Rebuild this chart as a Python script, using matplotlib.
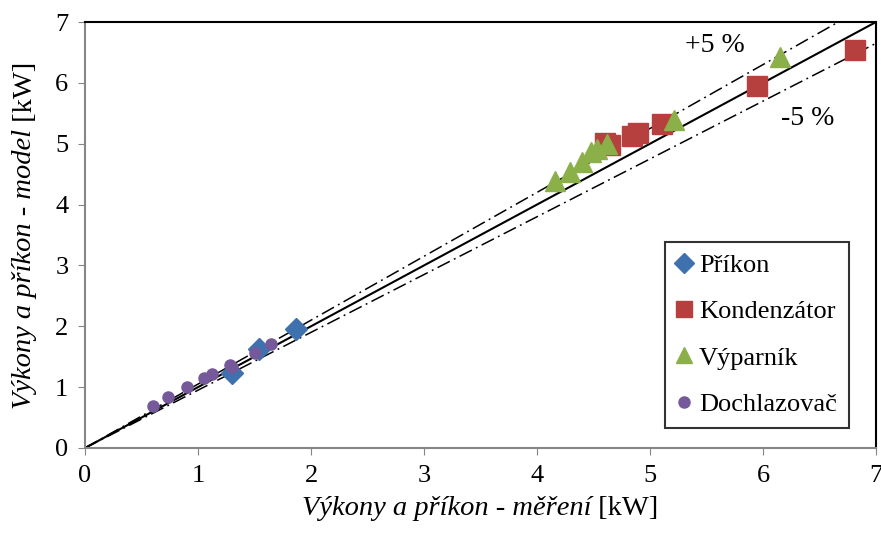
import matplotlib
matplotlib.use("Agg")
import matplotlib.pyplot as plt
import numpy as np

plt.rcParams['font.family'] = ['Liberation Serif', 'DejaVu Serif']

# measured vs model values [kW]
prikon_x = [1.30, 1.54, 1.87]
prikon_y = [1.24, 1.63, 1.96]
kond_x = [4.60, 4.65, 4.84, 4.89, 5.11, 5.95, 6.81]
kond_y = [5.02, 4.98, 5.12, 5.17, 5.33, 5.95, 6.54]
vypar_x = [4.16, 4.29, 4.40, 4.48, 4.53, 4.62, 5.21, 6.15]
vypar_y = [4.38, 4.54, 4.70, 4.86, 4.91, 5.00, 5.39, 6.43]
dochl_x = [0.60, 0.73, 0.90, 1.05, 1.12, 1.28, 1.30, 1.50, 1.65]
dochl_y = [0.69, 0.83, 1.00, 1.15, 1.21, 1.37, 1.33, 1.56, 1.71]

FS = 20

fig = plt.figure(figsize=(8.81, 5.33), dpi=100)
ax = fig.add_axes([0.0965, 0.1595, 0.8978, 0.7992])

line = np.array([0, 7])
ax.plot(line, line, color='black', lw=1.5, zorder=1)
ax.plot(line, line * 1.05, color='black', lw=1.1, ls=(0, (9, 3, 1.2, 3)), zorder=1)
ax.plot(line, line * 0.95, color='black', lw=1.1, ls=(0, (9, 3, 1.2, 3)), zorder=1)

ax.plot(prikon_x, prikon_y, ls='none', marker='D', ms=11, color='#3F71AE', label='Příkon', zorder=3)
ax.plot(kond_x, kond_y, ls='none', marker='s', ms=14, color='#B5403D', label='Kondenzátor', zorder=3)
ax.plot(vypar_x, vypar_y, ls='none', marker='^', ms=14, color='#8BB04A', label='Výparník', zorder=3)
ax.plot(dochl_x, dochl_y, ls='none', marker='o', ms=8, color='#75599A', label='Dochlazovač', zorder=3)

ax.text(5.57, 6.62, '+5 %', fontsize=FS, ha='center', va='center')
ax.text(6.40, 5.42, '-5 %', fontsize=FS, ha='center', va='center')

ax.set_xlim(0, 7)
ax.set_ylim(0, 7)
ax.set_xticks(range(8))
ax.set_yticks(range(8))
ax.tick_params(labelsize=FS - 1, direction='out', length=5, color='#868686', pad=7)
for s in ['left', 'bottom']:
    ax.spines[s].set_color('#868686')
    ax.spines[s].set_linewidth(1.5)
for s in ['top', 'right']:
    ax.spines[s].set_color('black')
    ax.spines[s].set_linewidth(1.5)

# axis titles: italic part + upright unit, centred on the plot area
fig.canvas.draw()
r = fig.canvas.get_renderer()
tx1 = fig.text(0, 0, 'Výkony a příkon - měření', fontsize=FS + 0.5, style='italic')
tx2 = fig.text(0, 0, ' [kW]', fontsize=FS + 0.5)
w1 = tx1.get_window_extent(r).width
w2 = tx2.get_window_extent(r).width
x0 = 480 - (w1 + w2) / 2
tx1.set_position((x0 / 881, 18 / 533))
tx2.set_position(((x0 + w1) / 881, 18 / 533))

ty1 = fig.text(0, 0, 'Výkony a příkon - model', fontsize=FS + 0.5, style='italic', rotation=90, va='bottom', ha='center')
ty2 = fig.text(0, 0, ' [kW]', fontsize=FS + 0.5, rotation=90, va='bottom', ha='center')
h1 = ty1.get_window_extent(r).height
h2 = ty2.get_window_extent(r).height
y0 = (533 - 235) - (h1 + h2) / 2
ty1.set_position((25 / 881, y0 / 533))
ty2.set_position((25 / 881, (y0 + h1) / 533))

leg = ax.legend(loc='upper left', bbox_to_anchor=(0.733, 0.4836), fontsize=FS - 1,
                frameon=True, fancybox=False, edgecolor='black', labelspacing=0.86,
                handlelength=0.56, handletextpad=0.29, borderpad=0.45, borderaxespad=0)
leg.get_frame().set_linewidth(1.5)
for h, ms in zip(leg.legend_handles, [10, 11, 11, 8]):
    h.set_markersize(ms)

fig.savefig('out.png', dpi=100)
